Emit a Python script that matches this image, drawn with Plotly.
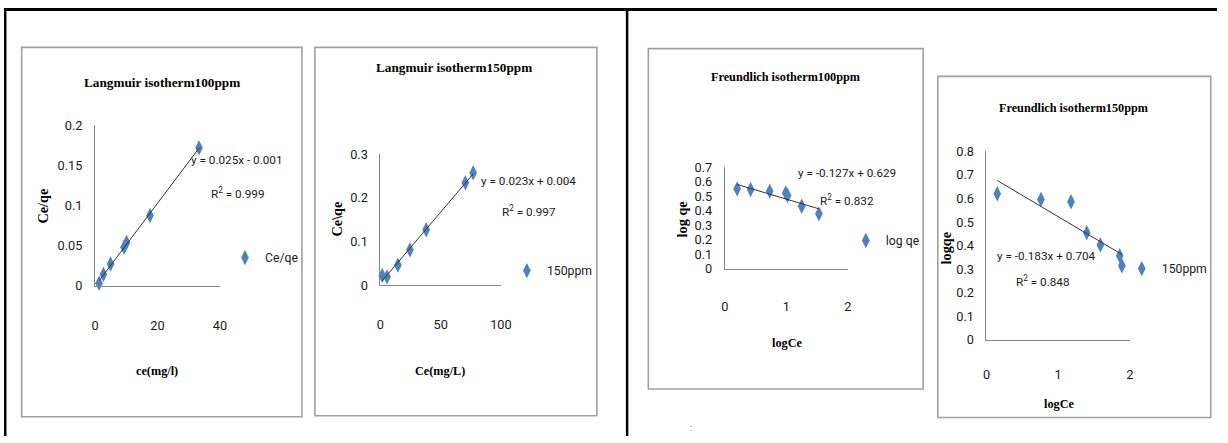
import numpy as np
import plotly.graph_objects as go

W, H = 1228, 443

# ---------------- data ----------------
lang100_ce = [1.3, 2.7, 5.0, 9.3, 10.1, 17.6, 33.3]
lang100_ceqe = [0.003, 0.014, 0.027, 0.048, 0.054, 0.0875, 0.172]

lang150_ce = [1.5, 5.5, 14.5, 24.5, 38.0, 70.5, 77.0]
lang150_ceqe = [0.022, 0.019, 0.046, 0.081, 0.127, 0.235, 0.258]

fr100_logce = [0.20, 0.42, 0.73, 0.99, 1.02, 1.25, 1.53]
fr100_logqe = [0.551, 0.546, 0.535, 0.523, 0.505, 0.431, 0.379]

fr150_logce = [0.15, 0.76, 1.18, 1.40, 1.59, 1.86, 1.89]
fr150_logqe = [0.62, 0.596, 0.586, 0.455, 0.403, 0.357, 0.314]

titles = ["Langmuir isotherm100ppm", "Langmuir isotherm150ppm",
          "Freundlich isotherm100ppm", "Freundlich isotherm150ppm"]
x_titles = ["ce(mg/l)", "Ce(mg/L)", "logCe", "logCe"]
y_titles = ["Ce/qe", "Ce\\qe", "log qe", "logqe"]
series_names = ["Ce/qe", "150ppm", "log qe", "150ppm"]
equations = ["y = 0.025x - 0.001", "y = 0.023x + 0.004",
             "y = -0.127x + 0.629", "y = -0.183x + 0.704"]
r_squared = ["0.999", "0.997", "0.832", "0.848"]

# ---------------- styles ----------------
BLUE = "#4F81BD"
NARROW = "Roboto, Liberation Sans Narrow, sans-serif"
SERIF = "Liberation Serif, Times New Roman, serif"
AXIS_GRAY = "#868686"
BOX_GRAY = "#a0a0a0"

# layout positions are measured in the reference picture; the rendered page shows up
# slightly inset (about 4px / 7.7px) and scaled (0.988 / 0.965), so compensate here
SX, SY, OX, OY = 0.988, 0.965, 4.0, 7.7
FS = 1.02  # font size compensation


def px(xp):
    return ((xp - OX) / SX) / W


def py(yp):
    return 1 - ((yp - OY) / SY) / H


panels = [
    dict(x=lang100_ce, y=lang100_ceqe, xr=[0, 40], yr=[0, 0.2], dx=20, dy=0.05,
         xpx=(95, 220), ypx=(285, 125), xstand=28, box=(21.7, 47, 302, 416),
         title=(162, 82, 13), xt=(157, 370), yt=(43, 205),
         eq=(237.5, 160), r2=(238, 192), leg=(249, 257)),
    dict(x=lang150_ce, y=lang150_ceqe, xr=[0, 100], yr=[0, 0.3], dx=50, dy=0.1,
         xpx=(380.5, 501), ypx=(284.5, 154), xstand=28, box=(315, 47, 597, 415),
         title=(454, 67, 13), xt=(440, 370), yt=(337, 218),
         eq=(529, 180), r2=(529, 210), leg=(531, 270)),
    dict(x=fr100_logce, y=fr100_logqe, xr=[0, 2], yr=[0, 0.7], dx=1, dy=0.1,
         xpx=(725, 848), ypx=(268.3, 166.7), xstand=26, box=(648.5, 48.3, 923.3, 388.3),
         title=(786, 77, 12), xt=(787, 342), yt=(682, 219),
         eq=(847.5, 173), r2=(847.5, 199), leg=(870, 240)),
    dict(x=fr150_logce, y=fr150_logqe, xr=[0, 2], yr=[0, 0.8], dx=1, dy=0.1,
         xpx=(986.7, 1130), ypx=(339, 151), xstand=23, box=(938, 76, 1211, 416.7),
         title=(1074, 108, 12), xt=(1059, 403), yt=(946, 247),
         eq=(1047, 255), r2=(1043, 280), leg=(1146, 268)),
]


def label(text, x, y, family, size, angle=0, color="#000"):
    return dict(text=text, x=px(x), y=py(y), xref="paper", yref="paper",
                showarrow=False, xanchor="center", yanchor="middle", textangle=angle,
                font=dict(family=family, size=size * FS, color=color))


fig = go.Figure()
shapes = []
annotations = []

for i, p in enumerate(panels):
    n = i + 1
    xa = "x" if n == 1 else f"x{n}"
    ya = "y" if n == 1 else f"y{n}"
    lg = "legend" if n == 1 else f"legend{n}"

    # chart area box
    bx0, by0, bx1, by1 = p["box"]
    shapes.append(dict(type="rect", xref="paper", yref="paper",
                       x0=px(bx0), x1=px(bx1), y0=py(by1), y1=py(by0),
                       line=dict(color=BOX_GRAY, width=1.6), fillcolor="rgba(0,0,0,0)",
                       layer="below"))

    # data points
    fig.add_trace(go.Scatter(
        x=p["x"], y=p["y"], mode="markers", name=series_names[i],
        marker=dict(symbol="diamond-tall", size=11, color=BLUE),
        xaxis=xa, yaxis=ya, legend=lg, showlegend=True, cliponaxis=False))

    # linear trendline (least squares on the data above)
    xs = np.array(p["x"])
    ys = np.array(p["y"])
    k, b = np.polyfit(xs, ys, 1)
    xl = np.array([xs.min(), xs.max()])
    fig.add_trace(go.Scatter(
        x=xl, y=k * xl + b, mode="lines", line=dict(color="#333333", width=1),
        xaxis=xa, yaxis=ya, showlegend=False, hoverinfo="skip", cliponaxis=False))

    axis_common = dict(showgrid=False, zeroline=False, showline=True,
                       linecolor=AXIS_GRAY, linewidth=1, ticks="",
                       tickfont=dict(family=NARROW, size=12.5 * FS, color="#1a1a1a"),
                       fixedrange=True)
    x0p, x1p = p["xpx"]
    y0p, y1p = p["ypx"]
    fig.update_layout(**{
        ("xaxis" if n == 1 else f"xaxis{n}"): dict(
            axis_common, domain=[px(x0p), px(x1p)], range=p["xr"],
            tick0=0, dtick=p["dx"], anchor=ya, ticklabelstandoff=p["xstand"]),
        ("yaxis" if n == 1 else f"yaxis{n}"): dict(
            axis_common, domain=[py(y0p), py(y1p)], range=p["yr"],
            tick0=0, dtick=p["dy"], anchor=xa, ticklabelstandoff=9),
        lg: dict(x=px(p["leg"][0] - 24), y=py(p["leg"][1]), xanchor="left",
                 yanchor="middle", bgcolor="rgba(0,0,0,0)", itemwidth=30,
                 font=dict(family=NARROW, size=12 * FS, color="#1a1a1a")),
    })

    tx, tyy, tsz = p["title"]
    annotations.append(label(f"<b>{titles[i]}</b>", tx, tyy, SERIF, tsz))
    annotations.append(label(f"<b>{x_titles[i]}</b>", p["xt"][0], p["xt"][1], SERIF, 12))
    annotations.append(label(f"<b>{y_titles[i]}</b>", p["yt"][0], p["yt"][1], SERIF, 14, angle=-90))
    annotations.append(label(equations[i], p["eq"][0], p["eq"][1], NARROW, 11.5, color="#1a1a1a"))
    annotations.append(label(f"R<sup>2</sup> = {r_squared[i]}", p["r2"][0], p["r2"][1],
                             NARROW, 11.5, color="#1a1a1a"))

annotations.append(label(":", 691, 427, NARROW, 8, color="#333"))

# black page frame lines (top and left at the figure edge)
shapes += [
    dict(type="rect", xref="paper", yref="paper", x0=0, x1=1, y0=1 - 3 / H, y1=1,
         fillcolor="#000", line=dict(width=0)),
    dict(type="rect", xref="paper", yref="paper", x0=0, x1=2.5 / W, y0=0, y1=1,
         fillcolor="#000", line=dict(width=0)),
    dict(type="rect", xref="paper", yref="paper", x0=px(626), x1=px(628.5), y0=0, y1=1,
         fillcolor="#000", line=dict(width=0)),
]

fig.update_layout(width=W, height=H, margin=dict(l=0, r=0, t=0, b=0),
                  paper_bgcolor="white", plot_bgcolor="white",
                  shapes=shapes, annotations=annotations, hovermode=False)

fig.write_html("out.html", config={"displayModeBar": False, "staticPlot": True},
               post_script="document.body.style.margin='0';document.body.style.padding='0';"
                           "document.documentElement.style.overflow='hidden';")
